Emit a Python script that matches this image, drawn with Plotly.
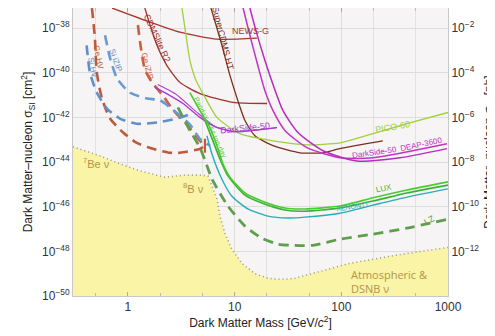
import math
import plotly.graph_objects as go

# ---------------- data (mass in GeV/c^2, sigma in cm^2) ----------------
nu_floor_mass = [0.305, 0.547, 0.84, 1.30, 2.22, 3.42, 4.73, 5.62, 6.13, 6.83, 7.28, 8.11, 9.4, 11.7, 15.5, 20.5, 27.7, 36.7, 63, 120, 355, 1000]
nu_floor_sigma = [4.8e-44, 1.9e-44, 8.3e-45, 4.0e-45, 2.1e-45, 2.6e-45, 2.6e-45, 2.4e-45, 8.5e-46, 2.2e-46, 3.8e-47, 6.5e-48, 1.26e-48, 2.9e-49, 1.0e-49, 6.2e-50, 5.5e-50, 6.2e-50, 1.26e-49, 2.9e-49, 7.2e-49, 1.5e-48]

cdmslite_mass = [1.44, 1.61, 1.87, 2.32, 3.07, 4.73, 9.64, 20.1]
cdmslite_sigma = [7.9e-38, 1.4e-38, 1.7e-39, 2.1e-40, 3.7e-41, 1.17e-41, 4.7e-42, 4.2e-42]

scdms_ht_mass = [6.0, 7.6, 9.04, 10.7, 12.5, 15.5, 22.9, 40.9, 67.3, 97, 245]
scdms_ht_sigma = [7.9e-38, 1.7e-39, 7.6e-41, 5.8e-42, 7.2e-43, 1.5e-43, 5.4e-44, 2.6e-44, 2.6e-44, 4.0e-44, 8.9e-44]

newsg_mass = [0.71, 1.61, 3.07, 6.83, 16.2]
newsg_sigma = [7.9e-38, 1.86e-38, 6.6e-39, 3.2e-39, 3.55e-39]

pico_mass = [3.21, 3.5, 3.81, 4.34, 5.05, 6.83, 11.2, 22.9, 47.6, 97, 198, 412, 1000]
pico_sigma = [7.9e-38, 4.8e-39, 3.6e-40, 4.6e-41, 1.17e-41, 1.0e-42, 1.86e-43, 8.9e-44, 5.9e-44, 7.2e-44, 1.86e-43, 5.2e-43, 1.66e-42]

deap_mass = [12.0, 13.9, 16.5, 19.2, 22.9, 29.6, 47.6, 97, 198, 977]
deap_sigma = [7.9e-38, 4.8e-39, 2.1e-40, 1.6e-41, 2.0e-42, 2.6e-43, 4.4e-44, 1.55e-44, 1.55e-44, 6.6e-44]

ds50_mass = [13.9, 15.8, 19.2, 23.4, 28.4, 39.2, 67.3, 140, 355, 977]
ds50_sigma = [7.9e-38, 8.1e-39, 3.6e-40, 2.2e-41, 2.0e-42, 2.1e-43, 3.2e-44, 1.12e-44, 1.55e-44, 4.0e-44]

ds50_low_mass = [1.79, 2.48, 3.28, 4.73, 6.54, 10.07, 24.9]
ds50_low_sigma = [2.2e-41, 9.5e-42, 4.2e-42, 1.0e-42, 3.9e-43, 2.3e-43, 3.5e-43]
ds50_low2_mass = [1.9, 2.76, 4.25, 6.54, 10.07, 24.9]
ds50_low2_sigma = [3.0e-41, 1.17e-41, 2.0e-42, 3.9e-43, 2.3e-43, 3.5e-43]

pandax_mass = [3.81, 4.73, 5.87, 6.83, 7.77, 9.04, 12.5, 18.0, 29.6, 45.6, 97, 198, 412, 1000]
pandax_sigma = [1.3e-41, 2.0e-42, 3.5e-43, 5.4e-44, 8.3e-45, 2.1e-45, 4.1e-46, 1.8e-46, 8.7e-47, 7.9e-47, 1.07e-46, 2.5e-46, 5.6e-46, 1.3e-45]

lux_mass = [5.27, 6.26, 7.28, 8.65, 12.5, 18.0, 29.6, 45.6, 97, 198, 412, 1000]
lux_sigma = [7.2e-43, 8.9e-44, 1.38e-44, 2.4e-45, 3.3e-46, 1.45e-46, 7.1e-47, 6.3e-47, 8.7e-47, 1.8e-46, 4.1e-46, 9.3e-46]

xenon_mass = [5.5, 6.13, 7.6, 9.4, 13.3, 20.5, 31.6, 45.6, 97, 198, 412, 1000]
xenon_sigma = [1.5e-43, 2.3e-44, 1.7e-45, 3.0e-46, 7.9e-47, 3.8e-47, 3.1e-47, 3.4e-47, 5.1e-47, 1.17e-46, 2.7e-46, 6.3e-46]

lz_mass = [2.94, 3.81, 4.73, 5.5, 6.13, 8.65, 12.5, 18.0, 25.5, 36.7, 54.2, 97, 198, 412, 1000]
lz_sigma = [2.8e-42, 2.6e-43, 4.4e-44, 6.8e-45, 1.74e-45, 1.07e-46, 1.35e-47, 3.9e-48, 2.1e-48, 1.86e-48, 1.86e-48, 3.5e-48, 5.9e-48, 1.1e-47, 2.75e-47]

ge_hv_mass = [0.46, 0.49, 0.51, 0.57, 0.68, 0.90, 1.21, 1.72, 2.48, 3.07, 4.73, 5.27]
ge_hv_sigma = [7.9e-38, 3.55e-39, 1.05e-40, 7.1e-42, 8.9e-43, 2.1e-43, 7.2e-44, 3.9e-44, 2.6e-44, 2.6e-44, 3.9e-44, 5.4e-44]

ge_izip_mass = [1.24, 1.30, 1.44, 1.68, 2.13, 2.64, 3.57, 4.73, 5.38]
ge_izip_sigma = [1.38e-38, 2.3e-39, 1.4e-40, 3.7e-41, 9.5e-42, 2.2e-42, 4.8e-43, 8.9e-44, 5.4e-44]

si_hv_mass = [0.41, 0.44, 0.51, 0.635, 0.84, 1.21, 1.87, 2.88, 3.98]
si_hv_sigma = [1.7e-39, 1.05e-40, 1.3e-41, 2.5e-42, 8.9e-43, 5.2e-43, 5.9e-43, 8.9e-43, 1.48e-42]

si_izip_mass = [0.61, 0.68, 0.79, 1.04, 1.51, 2.0, 2.64, 3.81, 4.73, 5.87]
si_izip_sigma = [4.8e-39, 4.5e-40, 5.6e-41, 1.3e-41, 7.1e-42, 5.8e-42, 2.2e-42, 4.8e-43, 1.1e-43, 5.4e-44]

x_tick_vals = [1, 10, 100, 1000]
x_tick_text = ["1", "10", "100", "1000"]
x_minor_vals = [0.5, 2, 5, 20, 50, 200, 500]
y_tick_vals = [1e-38, 1e-40, 1e-42, 1e-44, 1e-46, 1e-48, 1e-50]
y_tick_text = ["10<sup>−38</sup>", "10<sup>−40</sup>", "10<sup>−42</sup>", "10<sup>−44</sup>",
               "10<sup>−46</sup>", "10<sup>−48</sup>", "10<sup>−50</sup>"]
y2_tick_vals = [1e-2, 1e-4, 1e-6, 1e-8, 1e-10, 1e-12]
y2_tick_text = ["10<sup>−2</sup>", "10<sup>−4</sup>", "10<sup>−6</sup>", "10<sup>−8</sup>",
                "10<sup>−10</sup>", "10<sup>−12</sup>"]

FONT = "Liberation Sans, Arial, sans-serif"
NU_COL = "#b4934a"

fig = go.Figure()

# neutrino floor (filled to below the axis)
floor_x = nu_floor_mass + [1000, 0.305]
floor_y = nu_floor_sigma + [1e-52, 1e-52]
fig.add_trace(go.Scatter(x=floor_x, y=floor_y, fill="toself", fillcolor="#faf4a6",
                         line=dict(width=0), mode="lines", hoverinfo="skip", showlegend=False))
fig.add_trace(go.Scatter(x=nu_floor_mass, y=nu_floor_sigma, mode="lines",
                         line=dict(color="#9a9a80", width=1.6, dash="1px,3px"), showlegend=False))


def line(x, y, color, width=1.4, dash=None):
    fig.add_trace(go.Scatter(x=x, y=y, mode="lines", showlegend=False,
                             line=dict(color=color, width=width, dash=dash, shape="spline", smoothing=0.6)))


DASH = "10px,6px"
line(ge_hv_mass, ge_hv_sigma, "#c0593c", 2.6, DASH)
line(ge_izip_mass, ge_izip_sigma, "#c9603e", 2.6, DASH)
line(si_hv_mass, si_hv_sigma, "#6090cc", 2.6, DASH)
line(si_izip_mass, si_izip_sigma, "#6a9ad2", 2.6, DASH)
line(lz_mass, lz_sigma, "#5e9e4c", 2.8, DASH)

# end caps of the Ge projections
fig.add_trace(go.Scatter(x=[ge_hv_mass[-1]], y=[ge_hv_sigma[-1]], mode="markers", showlegend=False,
                         marker=dict(symbol="line-ns", size=10, line=dict(color="#c0593c", width=2.2))))

line(newsg_mass, newsg_sigma, "#a5372c", 1.3)
line(cdmslite_mass, cdmslite_sigma, "#a3302a", 1.3)
line(scdms_ht_mass, scdms_ht_sigma, "#7b2f1f", 1.3)
line(pico_mass, pico_sigma, "#a2cf3c", 1.3)
line(ds50_low_mass, ds50_low_sigma, "#a23ad0", 1.3)
line(ds50_low2_mass, ds50_low2_sigma, "#b43cc8", 1.1)
line(deap_mass, deap_sigma, "#c233c4", 1.5)
line(ds50_mass, ds50_sigma, "#b52cbf", 1.5)
line(xenon_mass, xenon_sigma, "#27adb8", 1.4)
line(lux_mass, lux_sigma, "#3ab03a", 1.6)
line(pandax_mass, pandax_sigma, "#48cc2e", 1.6)

# invisible trace to activate the right-hand axis
fig.add_trace(go.Scatter(x=[1], y=[1e-5], yaxis="y2", mode="markers",
                         marker=dict(opacity=0), hoverinfo="skip", showlegend=False))

labels = [
    ("Ge HV", 0.535, 4.5e-40, "#c0593c", 78, 8),
    ("Si HV", 0.47, 1.6e-40, "#6090cc", 78, 8),
    ("Si iZIP", 0.77, 3.6e-40, "#6090cc", 70, 8),
    ("Ge iZIP", 1.51, 2.1e-40, "#c9603e", 75, 8),
    ("CDMSlite R2", 1.87, 3.5e-39, "#a3302a", 65, 9),
    ("SuperCDMS HT", 7.7, 3.5e-39, "#7b2f1f", 76, 9),
    ("NEWS-G", 14.2, 7.2e-39, "#a5372c", 0, 9),
    ("PandaX-II 54 ton-day", 5.87, 3.2e-43, "#48cc2e", 64, 7),
    ("DarkSide-50", 12.5, 3.3e-43, "#a23ad0", -6, 9),
    ("PICO-60", 305, 3.9e-43, "#a2cf3c", -10, 9),
    ("DarkSide-50", 206, 2.6e-44, "#b52cbf", -8, 8),
    ("DEAP-3600", 560, 5.9e-44, "#c233c4", -12, 8),
    ("LUX", 251, 6.3e-46, "#3ab03a", -12, 8),
    ("XENON1T", 129, 1.07e-46, "#27adb8", -8, 7),
    ("LZ", 676, 2.5e-47, "#5e9e4c", -30, 9),
]
annotations = []
for txt, xm, ys, col, ang, sz in labels:
    annotations.append(dict(x=math.log10(xm), y=math.log10(ys), text=txt,
                            showarrow=False, textangle=ang, font=dict(family=FONT, size=sz, color=col)))

nu_labels = [
    ("<sup>7</sup>Be ν", 0.51, 9.1e-45),
    ("<sup>8</sup>B ν", 4.15, 6.9e-46),
]
for txt, xm, ys in nu_labels:
    annotations.append(dict(x=math.log10(xm), y=math.log10(ys), text=txt,
                            showarrow=False, font=dict(family=FONT, size=11, color=NU_COL)))
annotations.append(dict(x=math.log10(118), y=math.log10(4.5e-50),
                        text="Atmospheric &amp;<br>DSNB ν", showarrow=False, xanchor="left", align="left",
                        font=dict(family="Open Sans, Liberation Sans, sans-serif", size=11, color=NU_COL)))

# note: the page body adds an 8px offset, so margins are reduced accordingly
fig.update_layout(
    template="none",
    width=495, height=336,
    margin=dict(l=65, r=55, t=0, b=48),
    paper_bgcolor="white", plot_bgcolor="#f6f4f4",
    font=dict(family=FONT, size=11, color="#333"),
    xaxis=dict(type="log", range=[-0.515, 3.0], tickvals=x_tick_vals, ticktext=x_tick_text,
               automargin=False,
               showgrid=True, gridcolor="#dddddd", gridwidth=1, zeroline=False,
               showline=True, linecolor="#c8c8c8", mirror="ticks", ticks="inside", ticklen=4,
               tickcolor="#aaaaaa", tickfont=dict(size=12, color="#333"),
               minor=dict(tickvals=x_minor_vals, showgrid=True, gridcolor="#e2e2e2",
                          ticks="inside", ticklen=3, tickcolor="#bbbbbb"),
               title=dict(text="Dark Matter Mass [GeV/<i>c</i><sup>2</sup>]", standoff=4,
                          font=dict(size=12, color="#222"))),
    yaxis=dict(type="log", range=[-50, -37.1], tickvals=y_tick_vals, ticktext=y_tick_text,
               automargin=False,
               showgrid=True, gridcolor="#dddddd", zeroline=False,
               showline=True, linecolor="#c8c8c8", ticks="", tickfont=dict(size=12, color="#333"),
               title=dict(text="Dark Matter–nucleon σ<sub>SI</sub> [cm<sup>2</sup>]", standoff=6,
                          font=dict(size=12, color="#222"))),
    yaxis2=dict(type="log", range=[-14, -1.1], overlaying="y", side="right",
                automargin=False,
                tickvals=y2_tick_vals, ticktext=y2_tick_text, showgrid=False, zeroline=False,
                showline=True, linecolor="#c8c8c8", ticks="", tickfont=dict(size=12, color="#333"),
                title=dict(text="Dark Matter–nucleon σ<sub>SI</sub> [pb]", standoff=6,
                           font=dict(size=12, color="#222"))),
    annotations=annotations,
)

fig.write_html("out.html")
